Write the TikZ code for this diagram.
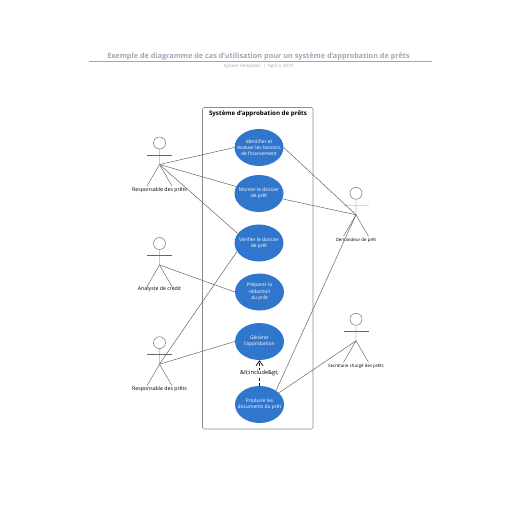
\documentclass[tikz,border=0pt]{standalone}
\usepackage{fontspec}
\setmainfont{Open Sans}
\usetikzlibrary{arrows.meta,shapes.geometric}
\definecolor{casbleu}{HTML}{3076CC}
\definecolor{titregris}{HTML}{A3A7B5}
\tikzset{
  cas/.style={ellipse,fill=casbleu,text=white,minimum width=49pt,minimum height=37pt,inner sep=-10pt,align=center,font=\fontsize{4.9}{6.3}\selectfont},
  lien/.style={draw=black!65,line width=0.45pt},
  acteur/.style={font=\fontsize{5.2}{6}\selectfont},
  acteurb/.style={font=\fontsize{4.4}{5}\selectfont},
  membre/.style={draw=black!60,line width=0.45pt},
}
\newcommand{\bonhomme}[3]{% nom, x, y de la tete
  \node[circle,draw=black!60,line width=0.45pt,minimum size=12pt,inner sep=0pt] (#1tete) at (#2,#3) {};
  \coordinate (#1bas) at (#2,#3+21.5);
  \coordinate (#1g) at (#2-12.5,#3+12);
  \coordinate (#1d) at (#2+12.5,#3+12);
  \coordinate (#1pg) at (#2-12.5,#3+43);
  \coordinate (#1pd) at (#2+12.5,#3+43);
  \draw[membre] (#1tete) -- (#1bas) -- (#1pg);
  \draw[membre] (#1bas) -- (#1pd);
  \draw[membre] (#1g) -- (#1d);
}
\begin{document}
\begin{tikzpicture}[x=1pt,y=-1pt,>={Straight Barb[length=5pt,width=7pt]}]
  \useasboundingbox (0,0) rectangle (516,516);
  \fill[white] (0,0) rectangle (516,516);
  % titre
  \node[text=titregris,font=\bfseries\fontsize{7.3}{9}\selectfont] (titre) at (258.5,56.5) {Exemple de diagramme de cas d'utilisation pour un système d'approbation de prêts};
  \coordinate (ruleg) at (89,61.5);
  \coordinate (ruled) at (432,61.5);
  \draw[titregris,line width=0.6pt] (ruleg) -- (ruled);
  \node[text=titregris,font=\fontsize{4.4}{5}\selectfont] (sstitre) at (258.5,66.5) {System Templates \ | \ April 3, 2019};
  % systeme
  \draw[black!45,line width=0.6pt,rounded corners=1.5pt] (202.5,107.5) rectangle (313,429);
  \node[font=\bfseries\fontsize{6.2}{7}\selectfont] (systeme) at (258,114) {Système d'approbation de prêts};
  % cas d'utilisation
  \node[cas] (identifier) at (259,147.5) {Identifier et\\évaluer les besoins\\de financement};
  \node[cas] (monter) at (259,193.5) {Monter le dossier\\de prêt};
  \node[cas] (verifier) at (259,243) {Vérifier le dossier\\de prêt};
  \node[cas] (preparer) at (259.5,292) {Préparer la\\rédaction\\du prêt};
  \node[cas] (generer) at (259.5,341.5) {Générer\\l'approbation};
  \node[cas] (produire) at (259.5,404.5) {Produire les\\documents du prêt};
  % acteurs
  \bonhomme{resp}{159.5}{143}
  \bonhomme{ana}{159.5}{243.5}
  \bonhomme{respb}{159.5}{342.7}
  \bonhomme{dem}{356}{193.3}
  \bonhomme{sec}{356}{319.3}
  \draw[black!15,line width=0.8pt] (demg) -- (demd);
  \node[acteur] (lresp) at (159.5,189.7) {Responsable des prêts};
  \node[acteur] (lana) at (159.5,289.3) {Analyste de crédit};
  \node[acteur] (lrespb) at (159.5,389.3) {Responsable des prêts};
  \node[acteurb] (ldem) at (356,240.3) {Demandeur de prêt};
  \node[acteurb] (lsec) at (356,366.3) {Secrétaire chargé des prêts};
  % liens
  \draw[lien] (respbas) -- (identifier.west);
  \draw[lien] (respbas) -- (monter.163);
  \draw[lien] (respbas) -- (verifier.156);
  \draw[lien] (anabas) -- (preparer.west);
  \draw[lien] (respbbas) -- (verifier.201);
  \draw[lien] (respbbas) -- (generer.west);
  \draw[lien] (dembas) -- (identifier.east);
  \draw[lien] (dembas) -- (monter.347);
  \draw[lien] (dembas) -- (produire.40);
  \draw[lien] (secbas) -- (produire.31);
  \draw[->,densely dashed,line width=0.7pt] (produire) -- (generer) node[midway,fill=white,inner sep=0.5pt,font=\fontsize{5.6}{6}\selectfont] (inclus) {\&lt;include\&gt;};
\end{tikzpicture}
\end{document}
